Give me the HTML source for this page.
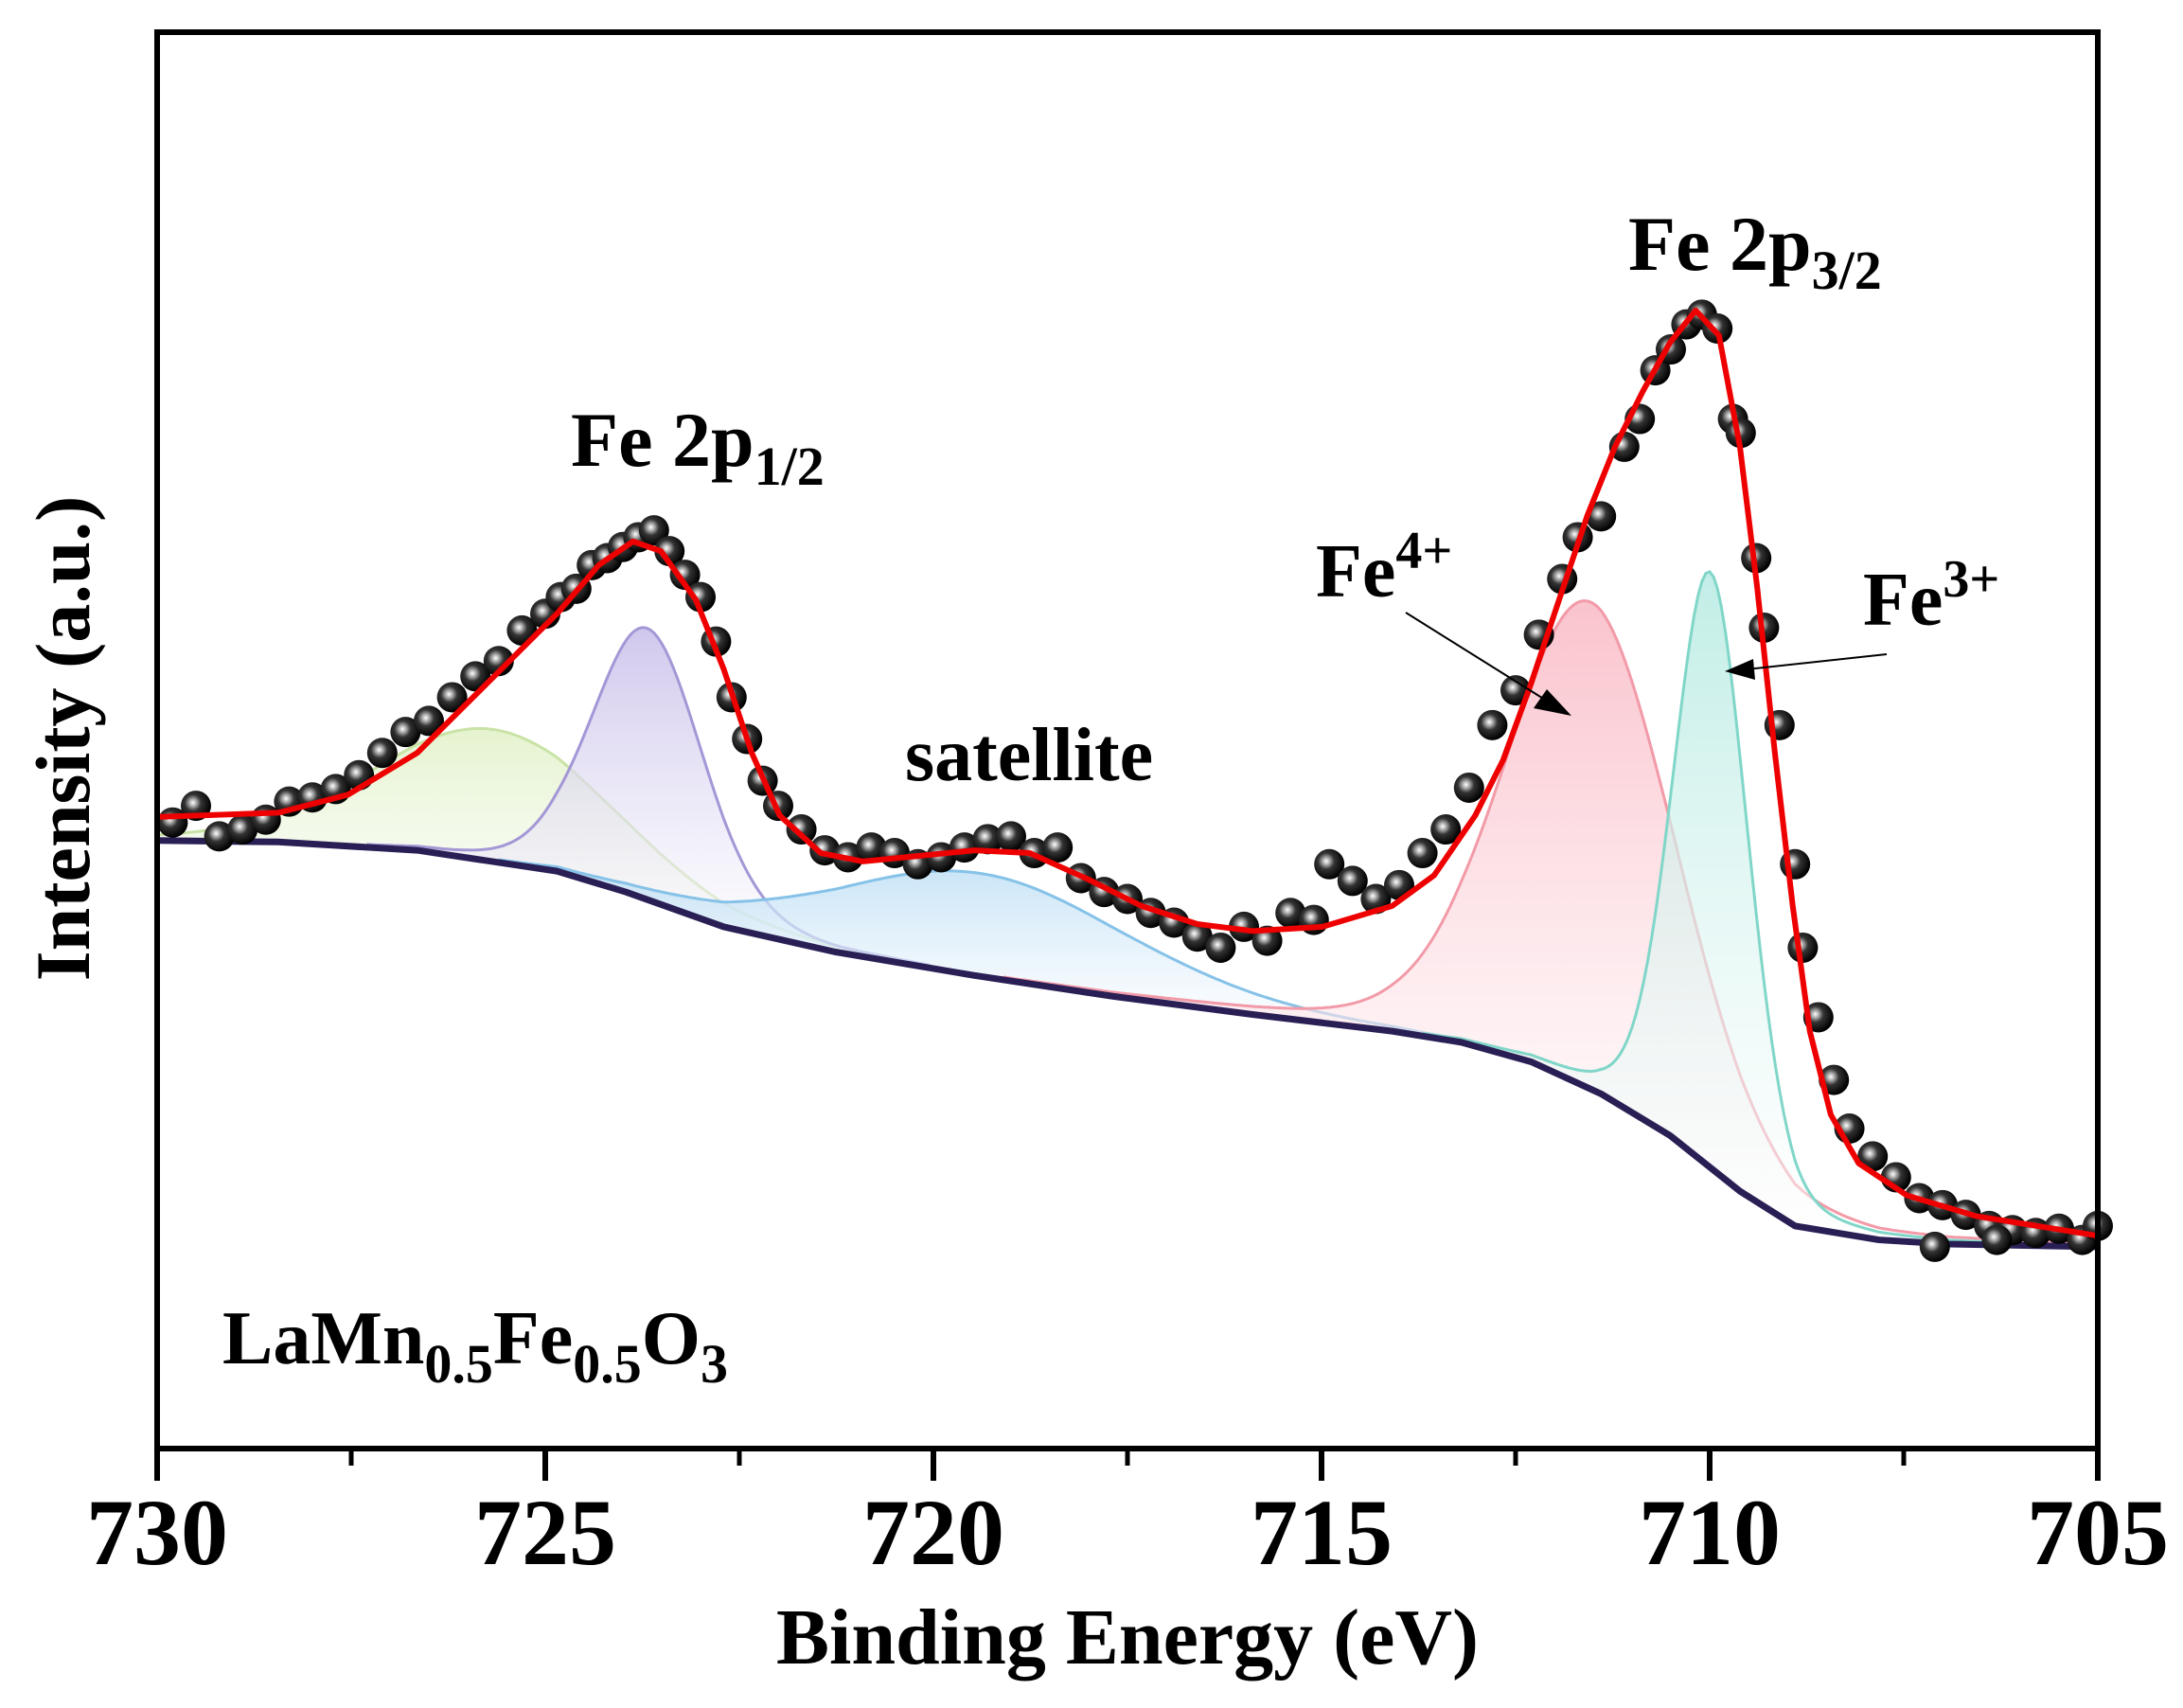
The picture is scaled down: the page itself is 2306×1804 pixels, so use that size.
<!DOCTYPE html>
<html><head><meta charset="utf-8"><style>
html,body{margin:0;padding:0;background:#fff}
svg{display:block}
text{font-family:"Liberation Serif",serif;font-weight:bold;fill:#000}
</style></head><body>
<svg id="chart" width="2306" height="1804" viewBox="0 0 2306 1804" xmlns="http://www.w3.org/2000/svg">
<defs>
<radialGradient id="ball" cx="0.4" cy="0.4" r="0.6">
<stop offset="0" stop-color="#fff"/><stop offset="0.2" stop-color="#aaa"/><stop offset="0.45" stop-color="#333"/><stop offset="1" stop-color="#000"/>
</radialGradient>
</defs>
<g id="fills"></g>
<g id="lines"></g>
<g id="dots"></g>
<rect x="166" y="34" width="2050" height="1496" fill="none" stroke="#000" stroke-width="6"/>
<g id="ticks"></g>
<text x="1191" y="1757" font-size="84" text-anchor="middle">Binding Energy (eV)</text>
<text transform="translate(94,780) rotate(-90)" font-size="82" text-anchor="middle">Intensity (a.u.)</text>
<text x="1720" y="285" font-size="82">Fe 2p<tspan font-size="58" dy="20">3/2</tspan></text>
<text x="603" y="492" font-size="82">Fe 2p<tspan font-size="58" dy="20">1/2</tspan></text>
<text x="956" y="824" font-size="80">satellite</text>
<text x="1390" y="630" font-size="80">Fe<tspan font-size="56" dy="-30">4+</tspan></text>
<text x="1968" y="660" font-size="80">Fe<tspan font-size="56" dy="-30">3+</tspan></text>
<text x="235" y="1440" font-size="80">LaMn<tspan font-size="58" dy="20">0.5</tspan><tspan dy="-20">Fe</tspan><tspan font-size="58" dy="20">0.5</tspan><tspan dy="-20">O</tspan><tspan font-size="58" dy="20">3</tspan></text>
<g><line x1="1485" y1="647" x2="1640" y2="744" stroke="#000" stroke-width="2"/><polygon points="1660,756 1620,748 1634,728" fill="#000"/></g>
<g><line x1="1993" y1="691" x2="1845" y2="707" stroke="#000" stroke-width="2"/><polygon points="1822,709 1852,696 1854,718" fill="#000"/></g>
</svg>
<script>
const xTicks=[730,725,720,715,710,705];
const xMinor=[727.5,722.5,717.5,712.5,707.5];
const bgE=[730,728.44,726.65,724.85,723.96,722.70,721.27,719.47,717.68,715.89,714.09,713.2,712.30,711.40,710.51,709.61,708.90,707.82,706.92,705];
const bgI=[437,436,430,415,400,375,357,340,325,312,300,292,278,255,225,185,160,150,147,145];
const fitE=[730,728.44,727.54,726.65,725.75,724.85,724.31,723.87,723.51,723.06,722.70,722.34,721.98,721.45,720.91,720.19,719.47,718.76,718.04,717.32,716.60,715.89,714.99,714.09,713.55,713.02,712.66,712.30,711.94,711.58,711.22,710.86,710.51,710.18,709.88,709.61,709.39,709.16,708.93,708.71,708.44,708.08,707.46,706.56,705];
const fitI=[454,457,470,500,550,600,635,652,645,610,560,500,455,428,422,426,430,428,410,390,377,372,375,390,412,455,495,550,610,670,720,760,795,818,800,720,620,500,390,300,240,205,182,167,153];
const peakNames=['green','purple','satellite','fe4','fe3'];
const peakCenters=[725.66,723.69,719.38,711.53,709.99];
const peakHeights=[95,195,74,350,428];
const peakFwhm=[3.6,1.7,4.5,2.6,1.15];
const dotE=[729.8,729.5,729.2,728.9,728.6,728.3,728.0,727.7,727.4,727.1,726.8,726.5,726.2,725.9,725.6,725.3,725.0,724.8,724.6,724.4,724.2,724.0,723.8,723.6,723.4,723.2,723.0,722.8,722.6,722.4,722.2,722.0,721.7,721.4,721.1,720.8,720.5,720.2,719.9,719.6,719.3,719.0,718.7,718.4,718.1,717.8,717.5,717.2,716.9,716.6,716.3,716.0,715.7,715.4,715.1,714.9,714.6,714.3,714.0,713.7,713.4,713.1,712.8,712.5,712.2,711.9,711.7,711.4,711.1,710.9,710.7,710.5,710.3,710.1,709.9,709.7,709.6,709.4,709.3,709.1,708.9,708.8,708.6,708.4,708.2,707.9,707.6,707.3,707.0,706.7,706.4,706.1,705.8,705.5,705.2,705.0,707.1,706.3];
const dotI=[450,462,440,445,452,465,468,474,484,500,515,523,540,555,566,588,600,612,618,635,640,648,655,660,645,628,612,580,540,510,480,462,445,430,425,432,428,420,425,432,438,440,428,432,410,400,395,385,378,368,360,375,365,385,380,420,408,395,405,428,445,475,520,545,585,625,655,670,720,740,775,790,808,815,805,740,730,640,590,520,420,360,310,265,230,210,195,180,175,168,160,157,155,158,150,160,145,150];
const fillCols={green:['#dff0c4','#c9e3a6'],purple:['#c4bae8','#a497d6'],satellite:['#b8dcf4','#86c2e8'],fe4:['#f9b4c0','#f29aa8'],fe3:['#b2e9e0','#80d6c8']};
const NS='http://www.w3.org/2000/svg';
const X0=166,X1=2216,Y0=1530,Y1=34;
function sx(e){return X0+(730-e)/25*(X1-X0);}
function sy(i){return Y0-i/1018*(Y0-Y1);}
function bgAt(e){for(let k=0;k<bgE.length-1;k++){if(e<=bgE[k]&&e>=bgE[k+1]){const t=(bgE[k]-e)/(bgE[k]-bgE[k+1]);return bgI[k]+t*(bgI[k+1]-bgI[k]);}}return bgI[bgI.length-1];}
const svg=document.getElementById('chart');
const defs=svg.querySelector('defs');
const fills=document.getElementById('fills'),lines=document.getElementById('lines'),dots=document.getElementById('dots'),ticks=document.getElementById('ticks');
peakNames.forEach((n,k)=>{
 const g=document.createElementNS(NS,'linearGradient');g.id='g'+n;g.setAttribute('x1','0');g.setAttribute('y1','0');g.setAttribute('x2','0');g.setAttribute('y2','1');
 g.innerHTML='<stop offset="0" stop-color="'+fillCols[n][0]+'"/><stop offset="1" stop-color="#ffffff" stop-opacity="0.6"/>';defs.appendChild(g);
 const s=peakFwhm[k]/2.355,hw=peakFwhm[k]/2;let top=[],bot=[];
 for(let e=730;e>=705-1e-9;e-=0.05){const d=e-peakCenters[k];const v=peakHeights[k]*(0.8*Math.exp(-d*d/(2*s*s))+0.2/(1+d*d/(hw*hw)));if(v<2)continue;const b=bgAt(e);top.push(sx(e).toFixed(1)+','+sy(b+v).toFixed(1));bot.unshift(sx(e).toFixed(1)+','+sy(b).toFixed(1));}
 const p=document.createElementNS(NS,'polygon');p.setAttribute('points',top.concat(bot).join(' '));p.setAttribute('fill','url(#g'+n+')');p.setAttribute('fill-opacity','0.8');
 
 
 fills.appendChild(p);
 const l=document.createElementNS(NS,'polyline');l.setAttribute('points',top.join(' '));l.setAttribute('fill','none');l.setAttribute('stroke',fillCols[n][1]);l.setAttribute('stroke-width','3');
 
 
 fills.appendChild(l);
});
const bg=document.createElementNS(NS,'polyline');bg.setAttribute('points',bgE.map((e,i)=>sx(e)+','+sy(bgI[i])).join(' '));bg.setAttribute('fill','none');bg.setAttribute('stroke','#2a1f55');bg.setAttribute('stroke-width','7');bg.setAttribute('stroke-linejoin','round');


lines.appendChild(bg);
dotE.forEach((e,i)=>{const c=document.createElementNS(NS,'circle');c.setAttribute('cx',sx(e));c.setAttribute('cy',sy(dotI[i]));c.setAttribute('r','16');c.setAttribute('fill','url(#ball)');
 
 
 dots.appendChild(c);});
const fit=document.createElementNS(NS,'polyline');fit.setAttribute('points',fitE.map((e,i)=>sx(e)+','+sy(fitI[i])).join(' '));fit.setAttribute('fill','none');fit.setAttribute('stroke','#ee0000');fit.setAttribute('stroke-width','6');fit.setAttribute('stroke-linejoin','round');


dots.parentNode.insertBefore(fit,dots.nextSibling);
xTicks.forEach(t=>{const l=document.createElementNS(NS,'line');l.setAttribute('x1',sx(t));l.setAttribute('x2',sx(t));l.setAttribute('y1',Y0);l.setAttribute('y2',Y0+34);l.setAttribute('stroke','#000');l.setAttribute('stroke-width','6');
 
 
 ticks.appendChild(l);
 const tx=document.createElementNS(NS,'text');tx.setAttribute('x',sx(t));tx.setAttribute('y','1652');tx.setAttribute('font-size','100');tx.setAttribute('text-anchor','middle');tx.textContent=t;
 
 
 ticks.appendChild(tx);});
xMinor.forEach(t=>{const l=document.createElementNS(NS,'line');l.setAttribute('x1',sx(t));l.setAttribute('x2',sx(t));l.setAttribute('y1',Y0);l.setAttribute('y2',Y0+18);l.setAttribute('stroke','#000');l.setAttribute('stroke-width','5');
 
 
 ticks.appendChild(l);});
</script>
</body></html>
